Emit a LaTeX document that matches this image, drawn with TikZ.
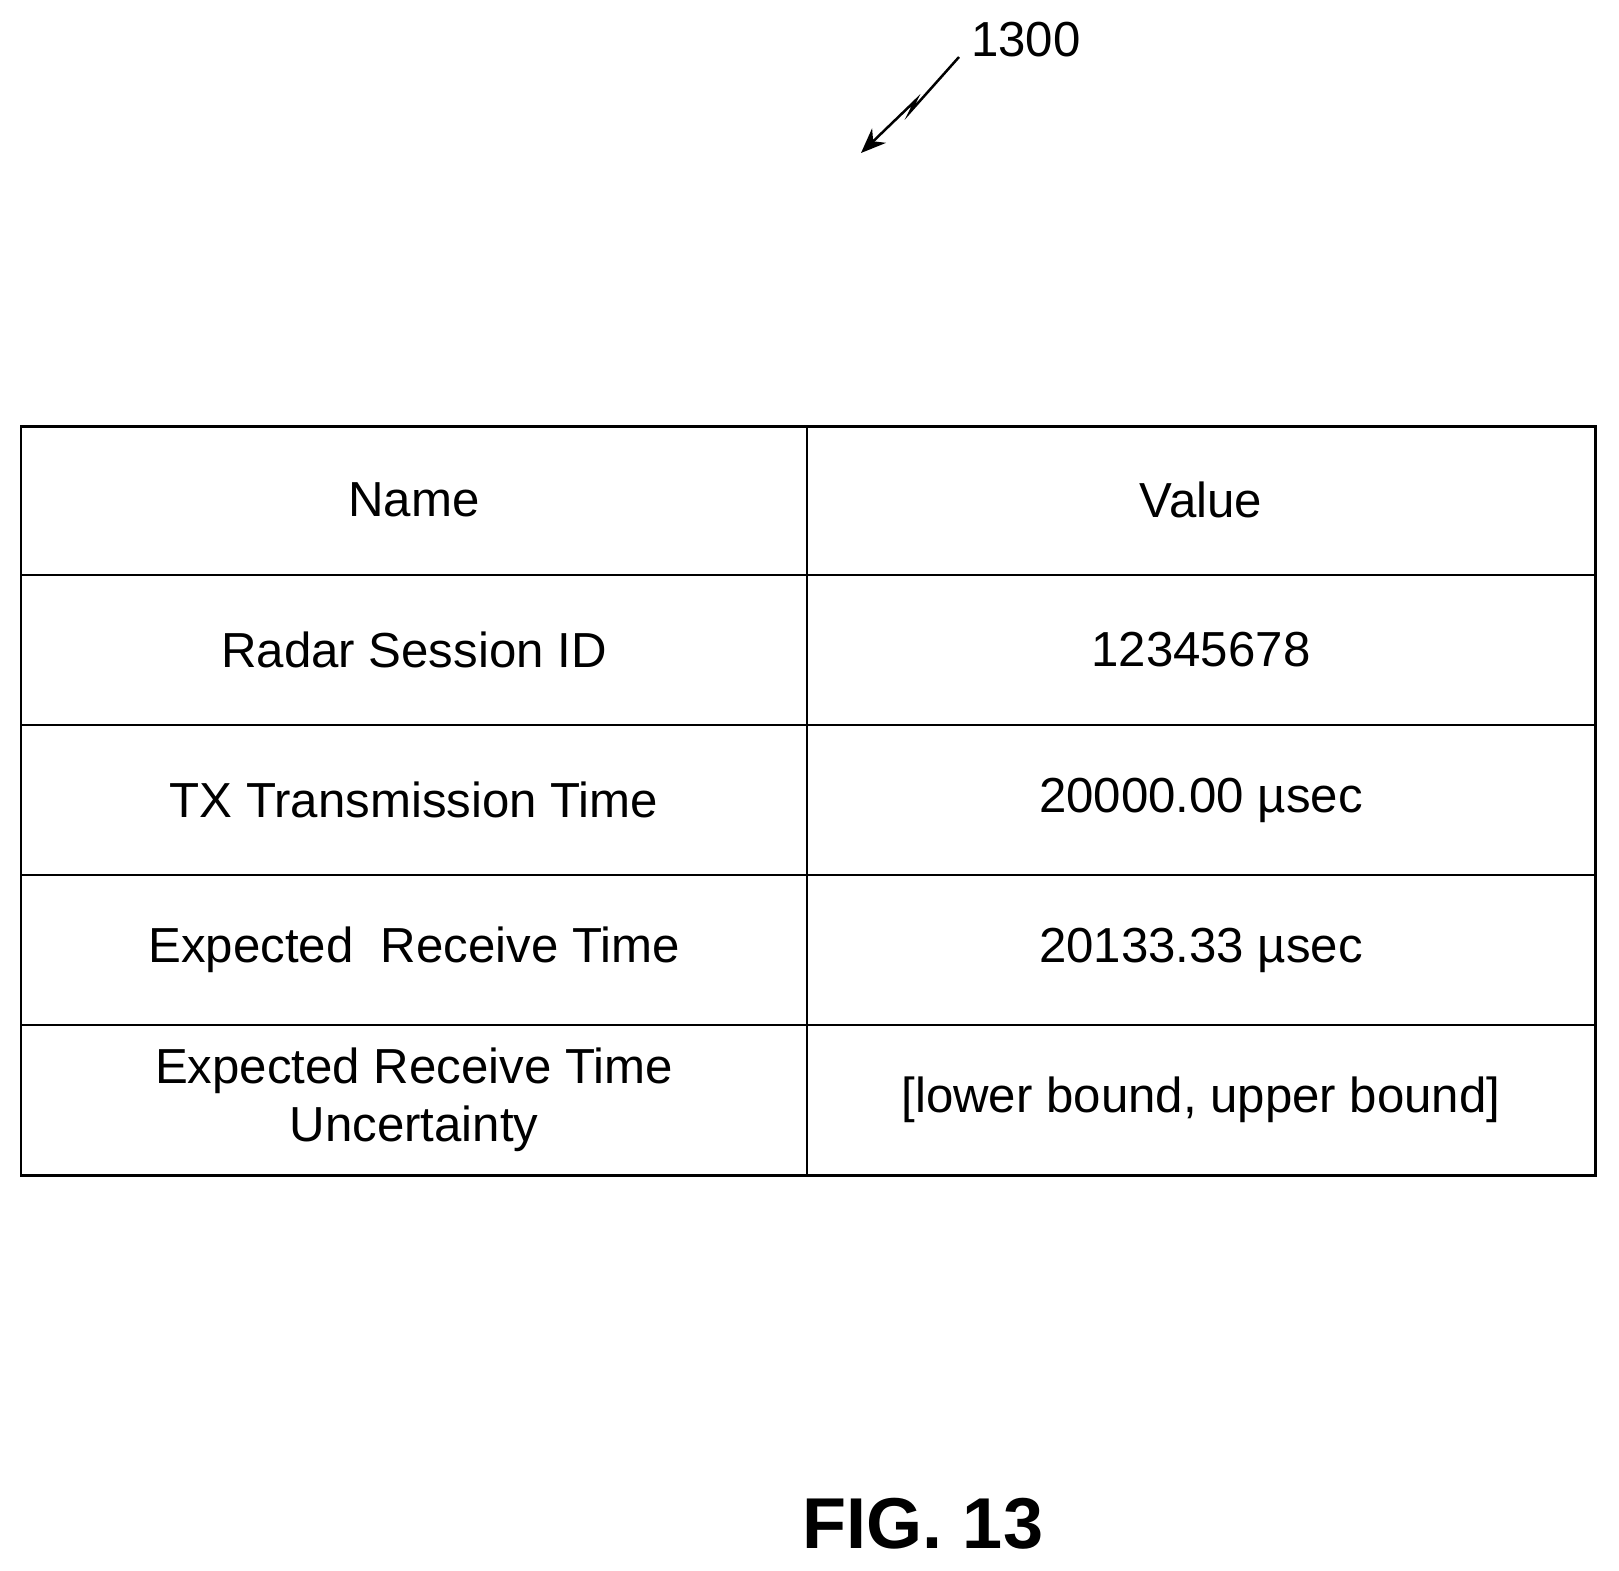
\documentclass[tikz,border=0pt]{standalone}
\usepackage{fontspec}
\setmainfont{Liberation Sans}
\usetikzlibrary{arrows.meta}
\tikzset{>={Stealth[width=4mm,length=5mm]}}

\begin{document}
\begin{tikzpicture}[x=0.02cm,y=-0.02cm]
  \tikzstyle{cell} = [font=\fontsize{28}{33}\selectfont, align=center]
  \useasboundingbox (0,0) rectangle (1619,1571);
  % table grid
  \draw[line width=0.06cm] (21,426) rectangle (1595,1175);
  \foreach \y in {575,725,875,1025}
    \draw[line width=0.05cm] (21,\y) -- (1595,\y);
  \draw[line width=0.05cm] (807,426) -- (807,1175);
  % cells
  \node[cell] (name) at (414,500) {Name};
  \node[cell] (value) at (1201,500) {Value};
  \node[cell] (rsid) at (414,650) {Radar Session ID};
  \node[cell] (rsidv) at (1201,650) {12345678};
  \node[cell] (txt) at (414,800) {TX Transmission Time};
  \node[cell] (txtv) at (1201,800) {20000.00 µsec};
  \node[cell] (ert) at (414,950) {Expected\ \ Receive Time};
  \node[cell] (ertv) at (1201,950) {20133.33 µsec};
  \node[cell] (unc) at (414,1100) {Expected Receive Time\\Uncertainty};
  \node[cell] (uncv) at (1201,1100) {[lower bound, upper bound]};
  % reference label
  \node[cell] (ref) at (1026,40) {1300};
  \coordinate (tip) at (861,153);
  \draw[->,line width=0.05cm] (959,57) -- (910,112) -- (916,100) -- (tip);
  \node[font=\bfseries\fontsize{41}{48}\selectfont] (fig) at (923,1524) {FIG. 13};
\end{tikzpicture}
\end{document}
